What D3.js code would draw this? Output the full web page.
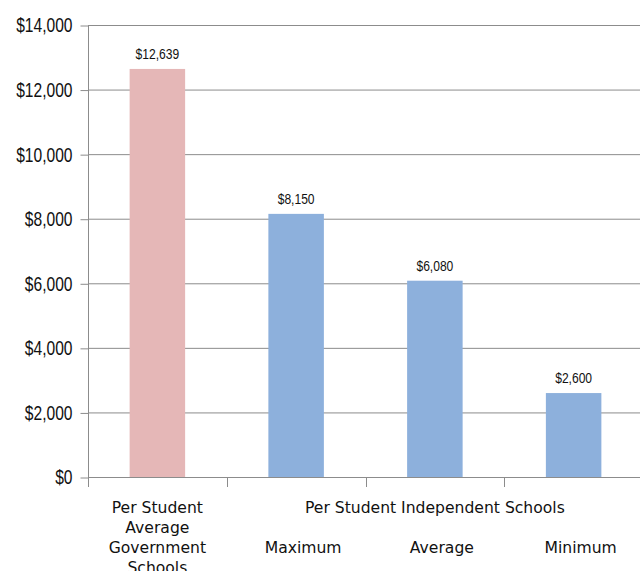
<!DOCTYPE html>
<html><head><meta charset="utf-8">
<script src="https://cdn.jsdelivr.net/npm/d3@7/dist/d3.min.js"></script>
<style>body{margin:0;background:#fff;}svg{display:block;}</style>
</head><body>
<svg id="chart" width="640" height="571"></svg>
<script>
const categories = ["Per Student Average Government Schools", "Maximum", "Average", "Minimum"];
const categoryLines = [["Per Student", "Average", "Government", "Schools"], ["Maximum"], ["Average"], ["Minimum"]];
const groupLabel = "Per Student Independent Schools";
const groupMembers = ["Maximum", "Average", "Minimum"];
const values = [12639, 8150, 6080, 2600];
const barGroups = ["government", "independent", "independent", "independent"];
const yTicks = [0, 2000, 4000, 6000, 8000, 10000, 12000, 14000];

(function () {
const colorMap = {government: "#E5B7B7", independent: "#8DB0DC"};
const svg = d3.select("#chart");
const pLeft = 88, pRight = 643, pTop = 25, pBottom = 477;
const x = d3.scaleBand().domain(categories).range([pLeft, pRight]).paddingInner(0.6).paddingOuter(0.3);
const y = d3.scaleLinear().domain([0, 14000]).range([pBottom, pTop]);
const fmt = v => "$" + d3.format(",")(v);
const grid = "#8c8c8c";
const numFont = "'Liberation Sans',sans-serif";
const squeeze = 0.78;

svg.append("g").selectAll("line").data(yTicks.filter(t => t > 0)).join("line")
  .attr("x1", pLeft).attr("x2", 640).attr("y1", d => y(d) + 0.5).attr("y2", d => y(d) + 0.5)
  .attr("stroke", grid).attr("stroke-width", 1);

const yAxis = d3.axisLeft(y).tickValues(yTicks).tickFormat(fmt).tickSize(8).tickPadding(8);
const yg = svg.append("g").attr("transform", `translate(${pLeft + 0.5},0.5)`).call(yAxis);
yg.select(".domain").attr("stroke", grid).attr("d", `M0,${pTop}V${pBottom}`);
yg.selectAll(".tick line").attr("stroke", grid);
yg.selectAll(".tick text").attr("font-family", numFont)
  .attr("font-size", 20).attr("fill", "#111")
  .attr("transform", `scale(${squeeze},1)`).attr("x", -16 / squeeze);

const labels = svg.append("g").selectAll("g").data(categories).join("g")
  .attr("transform", (d, i) => `translate(${x(d) + x.bandwidth() / 2},${y(values[i]) - 10}) scale(${squeeze},1)`);
labels.append("text").attr("text-anchor", "middle").attr("font-family", numFont)
  .attr("font-size", 15.5).attr("fill", "#111").text((d, i) => fmt(values[i]));

svg.append("g").selectAll("rect").data(categories).join("rect")
  .attr("x", d => x(d)).attr("width", x.bandwidth())
  .attr("y", (d, i) => y(values[i])).attr("height", (d, i) => pBottom - y(values[i]))
  .attr("fill", (d, i) => colorMap[barGroups[i]]);

svg.append("line").attr("x1", pLeft).attr("x2", 640).attr("y1", pBottom + 0.5).attr("y2", pBottom + 0.5)
  .attr("stroke", grid);
const step = x.step();
const bounds = d3.range(categories.length + 1).map(i => pLeft + i * step);
svg.append("g").selectAll("line").data(bounds).join("line")
  .attr("x1", d => Math.round(d) + 0.5).attr("x2", d => Math.round(d) + 0.5)
  .attr("y1", pBottom).attr("y2", pBottom + 10).attr("stroke", grid);

const labelFont = "'DejaVu Sans',sans-serif";
const labelSize = 15.6;
categories.forEach((c, i) => {
  const lines = categoryLines[i];
  const cx = x(c) + x.bandwidth() / 2 + (lines.length > 1 ? 0 : 7);
  const startY = lines.length > 1 ? 513 : 553;
  lines.forEach((ln, j) => {
    svg.append("text").attr("x", cx).attr("y", startY + j * 20).attr("text-anchor", "middle")
      .attr("font-family", labelFont).attr("font-size", labelSize).attr("fill", "#111").text(ln);
  });
});
const gx = (x(groupMembers[0]) + x(groupMembers[groupMembers.length - 1]) + x.bandwidth()) / 2;
svg.append("text").attr("x", gx).attr("y", 513).attr("text-anchor", "middle")
  .attr("font-family", labelFont).attr("font-size", labelSize).attr("fill", "#111").text(groupLabel);
})();
</script>
</body></html>
